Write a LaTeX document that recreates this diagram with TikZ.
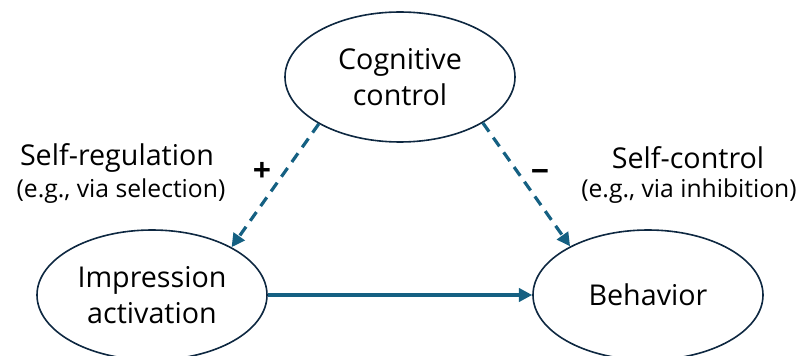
\documentclass[tikz,border=0pt]{standalone}
\usepackage{fontspec}
\setmainfont{Open Sans}
\usetikzlibrary{shapes.geometric,arrows.meta}

\definecolor{navy}{HTML}{0E2841}
\definecolor{teal}{HTML}{156082}

\tikzset{
  concept/.style={ellipse,draw=navy,line width=1.2pt,minimum width=172.5pt,
    minimum height=97.5pt,inner sep=0pt,align=center,
    font=\fontsize{21.5}{27.5}\selectfont},
  link/.style={teal,line width=2.4pt,-{Triangle[length=10pt,width=10pt]}},
  weak/.style={link,dash pattern=on 8pt off 5.5pt},
  caption/.style={font=\fontsize{21.5}{24}\selectfont},
  example/.style={font=\fontsize{18.5}{22}\selectfont},
  sign/.style={font=\fontsize{24}{26}\selectfont\bfseries}
}

\begin{document}
\begin{tikzpicture}[x=0.75pt,y=-0.75pt]
  \useasboundingbox (0,0) rectangle (797,356);
  \node[concept] (cog) at (400,77) {Cognitive\\control};
  \node[concept] (imp) at (152,295) {Impression\\activation};
  \node[concept] (beh) at (648,295) {Behavior};

  \draw[link] (imp.east) -- (beh.west);
  \draw[weak] (cog.210) -- (imp.31);
  \draw[weak] (cog.331) -- (beh.148);

  \node[sign] (plus) at (262,172) {+};
  \node[sign] (minus) at (540,176) {−};

  \node[caption] (selfreg) at (117,158) {Self-regulation};
  \node[example] (selfregex) at (121,191) {(e.g., via selection)};
  \node[caption] (selfctl) at (688,158) {Self-control};
  \node[example] (selfctlex) at (689,191) {(e.g., via inhibition)};
\end{tikzpicture}
\end{document}
